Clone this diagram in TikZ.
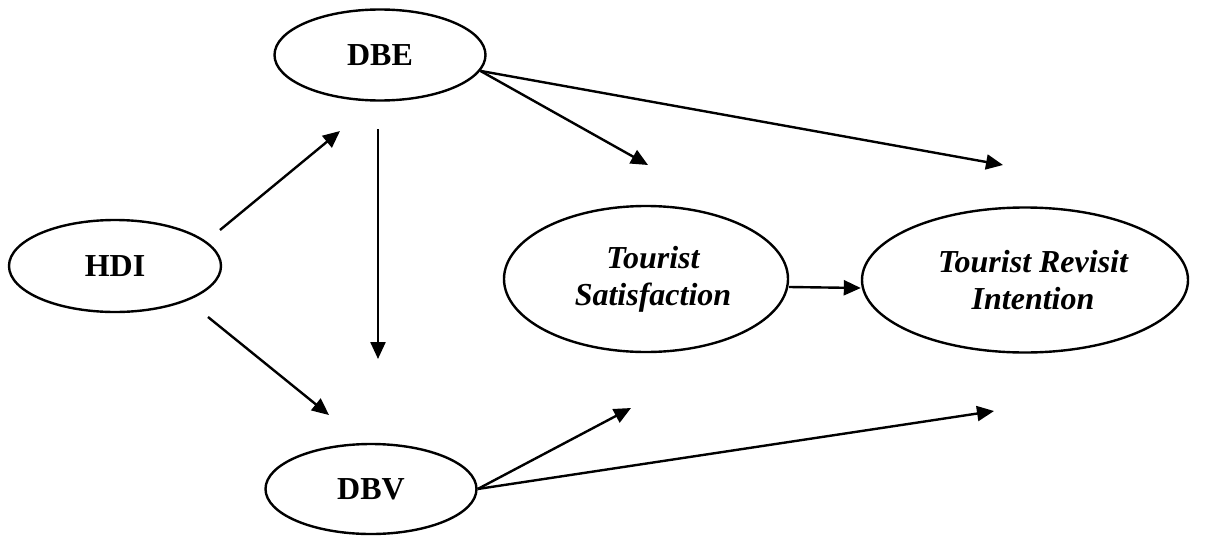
\documentclass[tikz,border=0pt]{standalone}
\usepackage{fontspec}
\setmainfont{Liberation Serif}
\usetikzlibrary{shapes.geometric,arrows.meta}
\begin{document}
\begin{tikzpicture}[x=1pt,y=-1pt,
  construct/.style={draw=black,line width=2.4pt,ellipse,inner sep=0pt,align=center,
    font=\fontsize{32}{37}\selectfont\bfseries},
  latent/.style={construct,font=\fontsize{32}{37}\selectfont\bfseries\itshape},
  path/.style={draw=black,line width=2.4pt,-{Triangle[length=17pt,width=15pt]}}]
\useasboundingbox (0,0) rectangle (1206,535);
\node[construct,minimum width=211pt,minimum height=91pt] (dbe) at (380,55) {DBE};
\node[construct,minimum width=212pt,minimum height=92pt] (hdi) at (115,266) {HDI};
\node[construct,minimum width=211pt,minimum height=90pt] (dbv) at (371,489) {DBV};
\node[latent,minimum width=284pt,minimum height=146pt] (ts) at (646,279) {\hspace*{14pt}Tourist\\\hspace*{14pt}Satisfaction};
\node[latent,minimum width=326pt,minimum height=145pt] (tri) at (1025,280) {\hspace*{16pt}Tourist Revisit\\\hspace*{16pt}Intention};
% free arrow ends
\coordinate (hdiA) at (220,230);
\coordinate (dbeIn) at (340,131);
\coordinate (hdiB) at (208,317);
\coordinate (dbvIn) at (329,415);
\coordinate (dbeB) at (378,129);
\coordinate (dbvTop) at (378,359);
\coordinate (tsTop) at (648,165);
\coordinate (triTop) at (1003,165);
\coordinate (tsBot) at (631,408);
\coordinate (triBot) at (994,411);
\draw[path] (hdiA) -- (dbeIn);
\draw[path] (hdiB) -- (dbvIn);
\draw[path] (dbeB) -- (dbvTop);
\draw[path] (dbe.-9) -- (tsTop);
\draw[path] (dbe.-9) -- (triTop);
\draw[path] (dbv.east) -- (tsBot);
\draw[path] (dbv.east) -- (triBot);
\draw[path] ([yshift=-8pt]ts.east) -- ([yshift=-8pt]tri.west);
\end{tikzpicture}
\end{document}
